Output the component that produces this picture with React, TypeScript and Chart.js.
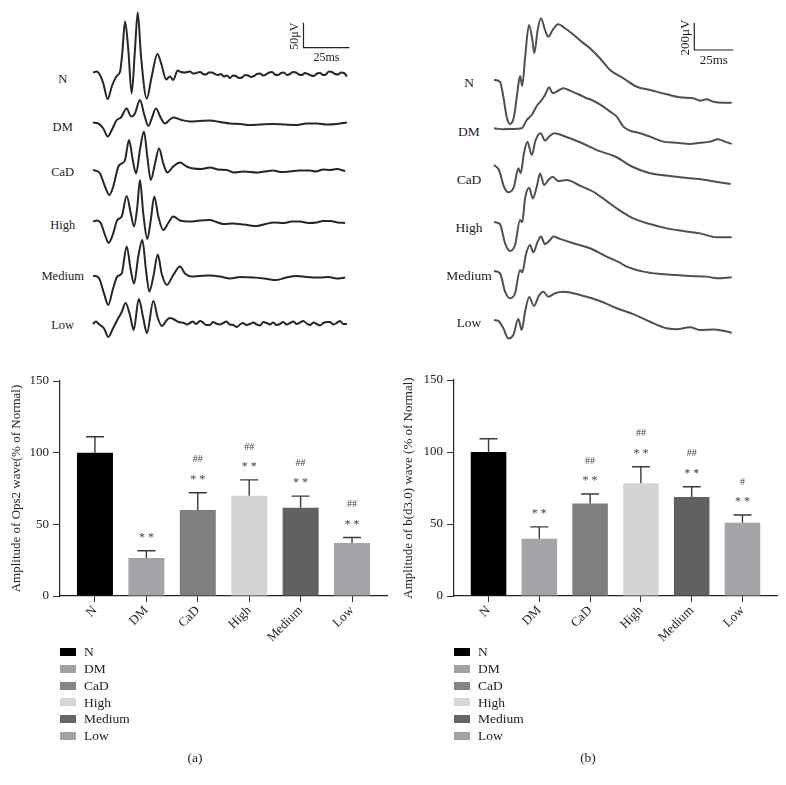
import React, { useEffect, useRef } from 'react';
import { Chart, registerables } from 'chart.js';

Chart.register(...registerables);

const SERIF = '"Liberation Serif", "Times New Roman", serif';

// ---------- Bar chart data ----------
const GROUPS = ['N', 'DM', 'CaD', 'High', 'Medium', 'Low'];
const BAR_COLORS = ['#000000', '#a3a3a8', '#7f7f7f', '#d3d3d3', '#616161', '#a3a3a8'];
const LEGEND_COLORS = ['#000000', '#a2a2a4', '#858585', '#d6d6d6', '#666666', '#a2a2a6'];

const OPS2_MEAN = [100, 26.5, 60, 70, 61.5, 37];
const OPS2_SEM = [11.1, 5.1, 12, 11, 8.2, 3.8];
const OPS2_STARS = ['', '**', '**', '**', '**', '**'];
const OPS2_HASH = ['', '', '##', '##', '##', '##'];

const BWAVE_MEAN = [100, 39.8, 64.2, 78.3, 68.8, 50.8];
const BWAVE_SEM = [9.2, 8.2, 6.6, 11.5, 7.1, 5.4];
const BWAVE_STARS = ['', '**', '**', '**', '**', '**'];
const BWAVE_HASH = ['', '', '##', '##', '##', '#'];

const Y_TICKS = [0, 50, 100, 150];

// ---------- Waveform data: [time ms, amplitude µV] ----------
const OPS_N: [number, number][] = [[0,2],[2,4],[3.8,-3],[5.6,-20],[8,-51],[10.2,-26],[12.9,-5],[14.7,4],[15.9,40],[17.4,104],[19.2,47],[21,-40],[22.8,47],[24.3,122],[26.1,34],[29.2,-50],[31.9,-6],[35,39],[37.3,17],[39.7,-12],[41.8,-6],[43.6,-13],[46,6],[47.8,3],[50,2],[52.7,4],[54.5,0],[56,1],[58.2,3],[59.8,-1],[61.4,-2],[63,2],[64.7,2],[66.3,-1],[67.9,-3],[69.5,-1],[71.2,-6],[72.8,-4],[74.5,-9],[76,-4],[77.7,-5],[79.3,-9],[81,-8],[82.6,-3],[84.2,-4],[85.9,-7],[87.5,-5],[89.1,-1],[90.8,0],[92.4,-4],[94,-2],[95.7,2],[97.3,3],[98.9,-2],[100.5,-3],[102.2,1],[103.8,2],[105.4,-3],[107.1,-1],[108.7,3],[110.3,2],[111.9,-2],[113.6,-3],[115.2,1],[116.8,-1],[118.5,-4],[120.1,-5],[121.7,0],[123.4,1],[125,-3],[126.6,-2],[128.2,4],[129.9,3],[131.5,-1],[133.2,-2],[134.8,2],[136.4,1],[138,-6]];
const OPS_DM: [number, number][] = [[0,-1],[2.9,-3],[5.6,-13],[8,-29],[10.2,-16],[12.9,4],[15.2,9],[18.3,27],[20.7,11],[22.8,17],[25.5,44],[27.9,14],[30.1,-8],[31.9,7],[34.2,27],[37,7],[39.1,-3],[41.8,5],[43.6,9],[48.2,4],[52.7,1],[58,2],[63.6,3],[69,0],[74.5,-3],[80,-4],[85.3,-6],[91,-5],[97.8,-4],[104,-5],[110.9,-6],[116,-3],[121.7,-3],[127,-5],[132.6,-4],[138,-1]];
const OPS_CAD: [number, number][] = [[0,0],[1.1,-1],[3.8,-7],[6.5,-33],[8.9,-50],[11,-33],[13.8,7],[15.6,13],[17.4,20],[19.6,60],[21.6,20],[23.4,-7],[25.5,40],[27.7,77],[29.5,27],[31.4,-20],[33.7,13],[35.9,43],[38.2,13],[40.4,-5],[43.6,7],[47.3,15],[50.9,7],[54.5,3],[59,2],[63.6,5],[68,1],[72.7,0],[76.3,-5],[82,-3],[89,-5],[93,-3],[98,-1],[102,-4],[107.1,-3],[112,-1],[117.9,-1],[121,-3],[125.2,1],[129,0],[132.4,2],[137,-2]];
const OPS_HIGH: [number, number][] = [[0,0],[2,2],[4.2,-3],[6.5,-27],[8.5,-43],[10.7,-27],[13.2,3],[15.6,10],[18.3,51],[20.5,17],[22.3,-10],[24.1,30],[25.5,83],[27.3,17],[29.5,-35],[31.4,3],[33.3,50],[35.5,10],[38.2,-17],[40.9,-3],[43.6,10],[47.3,2],[52.7,0],[58,2],[63.6,3],[67,-1],[70.8,-5],[76,-4],[82,-6],[89,-9],[94,-5],[98,-2],[104,-3],[108,0],[112.5,0],[117,-3],[121.6,-2],[125,1],[128.8,1],[133,-2],[137,-3]];
const OPS_MED: [number, number][] = [[0,0],[1.1,0],[3.4,-5],[6,-35],[8.3,-58],[10.7,-28],[13.2,-1],[15.6,5],[18.3,59],[20.5,12],[22.3,-15],[24.6,39],[26.8,72],[28.8,12],[30.6,-31],[32.8,-1],[35.2,43],[37.3,5],[40.1,-18],[43.6,2],[47.3,19],[50,5],[53.6,-1],[58,0],[63.6,1],[69,-1],[74.5,-5],[80,-2],[87.1,-3],[93,-5],[99.8,-8],[105,-3],[110.7,0],[116,-2],[123.4,-3],[128,-2],[132.4,-5],[137,-3]];
const OPS_LOW: [number, number][] = [[0,-1],[1.6,4],[3.4,-2],[6,-10],[8.3,-27],[10.7,-11],[13.2,7],[15.6,23],[17.7,41],[20.2,15],[22.1,-13],[24.9,49],[27.3,11],[29.3,-19],[32.8,45],[35.2,11],[37.5,-5],[40.1,7],[41.8,11],[43.6,9],[46.4,3],[49.5,1],[51.1,-2],[52.7,1],[54.3,4],[56,-1],[58.2,5],[59.8,2],[61.4,-3],[63.6,-3],[65.2,3],[67,0],[68.8,-2],[70.8,1],[72.5,4],[74.3,-2],[76.3,-3],[78.1,-7],[79.9,-2],[81.5,1],[83.4,-3],[85.3,-1],[87.1,2],[89,-2],[90.8,-4],[92.6,3],[94.4,1],[96.2,-2],[97.9,2],[99.8,-3],[101.6,-1],[103.4,3],[105.2,-2],[107.1,1],[108.9,4],[110.7,-1],[112.5,2],[114.3,5],[116.2,0],[118,-3],[119.8,2],[121.6,-1],[123.4,-4],[125.2,1],[127,3],[128.8,3],[130.6,-2],[132.4,1],[134.2,5],[136,-1],[138,-1]];

const BW_N: [number, number][] = [[0,0],[3.8,-13],[6,-124],[8.1,-272],[10.3,-326],[12.8,-272],[14.9,-98],[16.7,30],[18.1,-44],[19.9,161],[22.4,407],[24.6,296],[25.8,198],[28,370],[30.1,457],[32.7,370],[34.8,320],[37.6,370],[41.2,412],[45.5,383],[49.8,346],[56.2,283],[61.5,235],[67.9,161],[74.4,74],[82.9,13],[91.5,-50],[100,-74],[110.7,-106],[119.2,-128],[127.8,-135],[132.1,-153],[136.3,-143],[140.6,-161],[147,-168],[152.4,-168]];
const BW_DM: [number, number][] = [[0,0],[6,-7],[12.4,-5],[17.8,0],[21,61],[24.2,98],[27.4,165],[30.6,209],[32.7,246],[35.4,303],[37.6,259],[40.2,271],[44.4,296],[48.7,278],[55.1,246],[59.4,222],[62.6,209],[67.9,176],[74.4,123],[78.7,86],[82.9,12],[87.2,-18],[93.6,-37],[100,-62],[108.5,-99],[117.1,-107],[125.6,-116],[132.1,-107],[138.5,-99],[143.8,-81],[148.1,-99],[152.4,-116]];
const BW_CAD: [number, number][] = [[0,0],[3.2,-37],[6.4,-161],[9.2,-202],[12.8,-161],[15.6,-24],[17.1,-61],[19.2,87],[21.4,172],[24.2,74],[26.7,185],[29.9,235],[32.7,180],[35.3,209],[38.5,235],[46,209],[56.6,161],[67.3,104],[78,61],[88.7,-13],[99.4,-59],[110.1,-78],[120.7,-93],[131.4,-104],[142.1,-124],[151.7,-141]];
const BW_HIGH: [number, number][] = [[0,0],[3.8,-15],[7.1,-158],[10.3,-215],[13.5,-170],[16.7,15],[18.1,-2],[19.9,175],[22.6,254],[24.8,175],[27.4,261],[29.5,360],[32.2,274],[34.8,311],[37.6,335],[41.2,303],[46.6,311],[55.1,269],[63.7,224],[72.2,155],[79.7,93],[89.3,27],[100,-15],[110.7,-47],[121.3,-67],[132.1,-84],[142.8,-113],[152.4,-113]];
const BW_MED: [number, number][] = [[0,0],[3.8,-17],[7.1,-153],[10.3,-202],[13.5,-165],[16.7,7],[18.1,-10],[20.5,124],[23.1,192],[25.2,138],[28,217],[30.1,254],[32.7,198],[35.9,229],[38,254],[42.3,237],[50.8,205],[61.5,168],[72.2,106],[79.7,67],[85.1,32],[95.7,-5],[106.4,-22],[117.1,-30],[125.6,-37],[136.3,-42],[142.8,-54],[152.4,-47]];
const BW_LOW: [number, number][] = [[0,0],[2.8,-7],[6,-61],[9.2,-137],[12.4,-111],[15.6,7],[17.8,-74],[19.9,61],[22.6,170],[25.6,104],[28.7,178],[31.6,209],[34.8,172],[39.1,198],[44.4,209],[55.1,185],[67.9,141],[78.7,87],[89.3,44],[100,-13],[110.7,-61],[117.1,-69],[125.6,-54],[132.1,-74],[140.6,-70],[147,-79],[152.4,-94]];

// vertical stacking offsets of the traces (µV) inside each panel
const OPS_OFFSETS = [543, 446, 350, 247, 138, 43];
const BW_OFFSETS = [1961, 1604, 1332, 910, 548, 185];

type Trace = [number, number][];

interface WaveProps {
  traces: Trace[];
  offsets: number[];
  left: number; top: number; width: number; height: number;
  xMin: number; xMax: number; yMax: number;
  color: string; lineWidth: number;
  bar: { t: number; y: number; ms: number; uv: number; font: number; dx: number; dy: number };
}

function WaveChart(p: WaveProps) {
  const ref = useRef<HTMLCanvasElement>(null);
  useEffect(() => {
    const scaleBar = {
      id: 'scaleBar',
      afterDraw(chart: any) {
        const { ctx } = chart;
        const xs = chart.scales.x, ys = chart.scales.y;
        const x0 = xs.getPixelForValue(p.bar.t), x1 = xs.getPixelForValue(p.bar.t + p.bar.ms);
        const y0 = ys.getPixelForValue(p.bar.y), y1 = ys.getPixelForValue(p.bar.y + p.bar.uv);
        ctx.save();
        ctx.strokeStyle = '#222';
        ctx.lineWidth = 1.2;
        ctx.beginPath();
        ctx.moveTo(x0, y1); ctx.lineTo(x0, y0); ctx.lineTo(x1, y0);
        ctx.stroke();
        ctx.fillStyle = '#222';
        ctx.font = `${p.bar.font}px ${SERIF}`;
        ctx.textAlign = 'center';
        ctx.textBaseline = 'middle';
        ctx.fillText(`${p.bar.ms}ms`, (x0 + x1) / 2, y0 + p.bar.dy);
        ctx.translate(x0 - p.bar.dx, (y0 + y1) / 2 + 1);
        ctx.rotate(-Math.PI / 2);
        ctx.fillText(`${p.bar.uv}\u03bcV`, 0, 0);
        ctx.restore();
      },
    };
    const chart = new Chart(ref.current as HTMLCanvasElement, {
      type: 'line',
      data: {
        datasets: p.traces.map((tr, i) => ({
          data: tr.map(([t, v]) => ({ x: t, y: v + p.offsets[i] })),
          borderColor: p.color,
          borderWidth: p.lineWidth,
          pointRadius: 0,
          fill: false,
          cubicInterpolationMode: 'monotone' as const,
          clip: false as any,
        })),
      },
      options: {
        responsive: false,
        animation: false,
        events: [],
        layout: { padding: 0 },
        scales: {
          x: { type: 'linear', display: false, min: p.xMin, max: p.xMax },
          y: { type: 'linear', display: false, min: 0, max: p.yMax },
        },
        plugins: { legend: { display: false }, tooltip: { enabled: false } },
      },
      plugins: [scaleBar],
    });
    return () => chart.destroy();
  }, []);
  return (
    <canvas
      ref={ref}
      width={p.width}
      height={p.height}
      style={{ position: 'absolute', left: p.left, top: p.top, width: p.width, height: p.height }}
    />
  );
}

interface BarProps {
  left: number; top: number; width: number; height: number;
  means: number[]; sems: number[]; stars: string[]; hashes: string[];
  title: string; yWidth: number; padTop: number; padRight: number;
}

function BarChart(p: BarProps) {
  const ref = useRef<HTMLCanvasElement>(null);
  useEffect(() => {
    const errPlugin = {
      id: 'errBars',
      afterDatasetsDraw(chart: any) {
        const { ctx } = chart;
        const ys = chart.scales.y;
        const meta = chart.getDatasetMeta(0);
        ctx.save();
        meta.data.forEach((el: any, i: number) => {
          const x = el.x;
          const yb = ys.getPixelForValue(p.means[i]);
          const yt = ys.getPixelForValue(p.means[i] + p.sems[i]);
          ctx.strokeStyle = '#3a3a3a';
          ctx.lineWidth = 1.4;
          ctx.beginPath();
          ctx.moveTo(x, yb); ctx.lineTo(x, yt);
          ctx.moveTo(x - 9, yt); ctx.lineTo(x + 9, yt);
          ctx.stroke();
          ctx.fillStyle = '#444';
          ctx.textAlign = 'center';
          ctx.textBaseline = 'middle';
          if (p.stars[i]) {
            ctx.font = `12px ${SERIF}`;
            ctx.fillText(p.stars[i].split('').join(' '), x, yt - 13);
          }
          if (p.hashes[i]) {
            ctx.font = `10px ${SERIF}`;
            ctx.fillText(p.hashes[i], x, yt - 33);
          }
        });
        ctx.restore();
      },
    };
    const chart = new Chart(ref.current as HTMLCanvasElement, {
      type: 'bar',
      data: {
        datasets: [
          {
            data: p.means.map((v, i) => ({ x: i, y: v })),
            backgroundColor: BAR_COLORS,
            borderWidth: 0,
            barPercentage: 0.7,
            categoryPercentage: 1,
          },
        ],
      },
      options: {
        responsive: false,
        animation: false,
        events: [],
        layout: { padding: { top: p.padTop, right: p.padRight, left: 0, bottom: 0 } },
        scales: {
          x: {
            type: 'linear',
            offset: false,
            min: -0.68,
            max: 5.68,
            afterFit: (s: any) => { s.height = 54; },
            ticks: {
              stepSize: 1,
              includeBounds: false,
              autoSkip: false,
              maxRotation: 45,
              minRotation: 45,
              padding: 1,
              color: '#222',
              font: { family: SERIF, size: 13 },
              callback: (v: any) => GROUPS[v as number] ?? '',
            },
            grid: { display: true, offset: false, drawOnChartArea: false, drawTicks: true, tickLength: 6, color: '#333' },
            border: { display: true, color: '#222', width: 1.2 },
          },
          y: {
            type: 'linear',
            min: 0,
            max: 150,
            afterFit: (s: any) => { s.width = p.yWidth; },
            afterBuildTicks: (s: any) => { s.ticks = Y_TICKS.map((v) => ({ value: v })); },
            ticks: {
              padding: 4,
              color: '#222',
              font: { family: SERIF, size: 13 },
            },
            grid: { display: true, drawOnChartArea: false, drawTicks: true, tickLength: 7, color: '#333' },
            border: { display: true, color: '#222', width: 1.2 },
            title: {
              display: true,
              text: p.title,
              color: '#222',
              font: { family: SERIF, size: 13 },
              padding: { top: 9, bottom: 0 },
            },
          },
        },
        plugins: { legend: { display: false }, tooltip: { enabled: false } },
      },
      plugins: [errPlugin],
    });
    return () => chart.destroy();
  }, []);
  return (
    <canvas
      ref={ref}
      width={p.width}
      height={p.height}
      style={{ position: 'absolute', left: p.left, top: p.top, width: p.width, height: p.height }}
    />
  );
}

function Label({ x, y, text, size }: { x: number; y: number; text: string; size: number }) {
  return (
    <div
      style={{
        position: 'absolute',
        left: x,
        top: y,
        transform: 'translate(-50%, -50%)',
        fontSize: size,
        color: '#222',
        whiteSpace: 'nowrap',
        lineHeight: 1,
      }}
    >
      {text}
    </div>
  );
}

function Legend({ x, y }: { x: number; y: number }) {
  return (
    <>
      {GROUPS.map((g, i) => (
        <div key={g} style={{ position: 'absolute', left: x, top: y + i * 16.8 - 8, height: 16, display: 'flex', alignItems: 'center' }}>
          <div style={{ width: 16, height: 8, background: LEGEND_COLORS[i], marginRight: 8 }} />
          <span style={{ fontSize: 13.5, color: '#222', lineHeight: 1 }}>{g}</span>
        </div>
      ))}
    </>
  );
}

const OPS_LABEL_POS = [79, 127, 172, 225, 276, 325];
const BW_LABEL_POS = [83, 131.5, 180, 228, 276, 323];

export default function App() {
  return (
    <div style={{ position: 'absolute', left: 0, top: 0, width: 786, height: 785, background: '#fff', fontFamily: SERIF, overflow: 'hidden' }}>
      <WaveChart
        traces={[OPS_N, OPS_DM, OPS_CAD, OPS_HIGH, OPS_MED, OPS_LOW]}
        offsets={OPS_OFFSETS}
        left={85} top={0} width={270} height={345}
        xMin={-4.35} xMax={142.39} yMax={690}
        color="#262626" lineWidth={2}
        bar={{ t: 114.4, y: 594.6, ms: 25, uv: 50, font: 12, dx: 8.5, dy: 10 }}
      />
      <WaveChart
        traces={[BW_N, BW_DM, BW_CAD, BW_HIGH, BW_MED, BW_LOW]}
        offsets={BW_OFFSETS}
        left={485} top={0} width={260} height={345}
        xMin={-5.77} xMax={160.9} yMax={2553}
        color="#505050" lineWidth={2}
        bar={{ t: 128.4, y: 2183, ms: 25, uv: 200, font: 13, dx: 8.5, dy: 11 }}
      />
      {GROUPS.map((g, i) => (
        <Label key={'a' + g} x={62.7} y={OPS_LABEL_POS[i]} text={g} size={12.5} />
      ))}
      {GROUPS.map((g, i) => (
        <Label key={'b' + g} x={469} y={BW_LABEL_POS[i]} text={g} size={13.5} />
      ))}
      <BarChart
        left={0} top={360} width={392} height={290}
        means={OPS2_MEAN} sems={OPS2_SEM} stars={OPS2_STARS} hashes={OPS2_HASH}
        title="Amplitude of Ops2 wave(% of Normal)" yWidth={60} padTop={21} padRight={5}
      />
      <BarChart
        left={392} top={360} width={394} height={290}
        means={BWAVE_MEAN} sems={BWAVE_SEM} stars={BWAVE_STARS} hashes={BWAVE_HASH}
        title="Amplitude of b(d3.0) wave (% of Normal)" yWidth={62} padTop={20} padRight={9}
      />
      <Legend x={60} y={652} />
      <Legend x={454} y={652} />
      <Label x={195} y={758} text="(a)" size={13.5} />
      <Label x={588} y={758} text="(b)" size={13.5} />
    </div>
  );
}
